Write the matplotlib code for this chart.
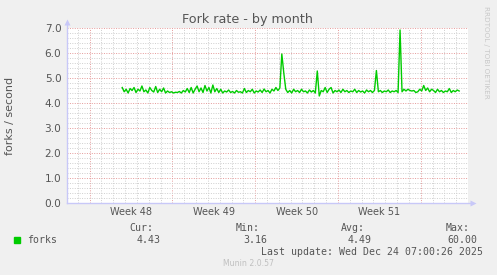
import numpy as np
import matplotlib
matplotlib.use("Agg")
import matplotlib.pyplot as plt
from matplotlib.ticker import MultipleLocator

# ---- data ----
title = "Fork rate - by month"
ylabel = "forks / second"
series_name = "forks"
week_labels = ["Week 48", "Week 49", "Week 50", "Week 51"]
week_starts = [1.917, 8.917, 15.917, 22.917, 29.917]   # days on axis (Mondays)
x_days_span = 33.417
data_start = 4.67          # day of first sample
data_step = 1.0 / 6.0      # 4-hour samples
values = [
    4.62, 4.45, 4.55, 4.40, 4.58, 4.50, 4.62, 4.42, 4.55, 4.48,
    4.68, 4.45, 4.52, 4.40, 4.62, 4.50, 4.44, 4.66, 4.42, 4.55,
    4.45, 4.60, 4.40, 4.48, 4.42, 4.45, 4.40, 4.43, 4.42, 4.46,
    4.40, 4.50, 4.44, 4.58, 4.42, 4.62, 4.40, 4.55, 4.68, 4.45,
    4.60, 4.42, 4.70, 4.48, 4.62, 4.40, 4.72, 4.45, 4.58, 4.42,
    4.55, 4.40, 4.48, 4.44, 4.52, 4.42, 4.46, 4.40, 4.50, 4.43,
    4.45, 4.40, 4.58, 4.42, 4.50, 4.45, 4.55, 4.40, 4.48, 4.44,
    4.52, 4.42, 4.56, 4.45, 4.50, 4.40, 4.55, 4.48, 4.62, 4.50,
    4.60, 5.96, 5.20, 4.55, 4.42, 4.50, 4.40, 4.55, 4.45, 4.50,
    4.42, 4.55, 4.45, 4.48, 4.40, 4.52, 4.44, 4.50, 4.40, 5.28,
    4.28, 4.50, 4.45, 4.62, 4.42, 4.55, 4.62, 4.40, 4.50, 4.45,
    4.52, 4.42, 4.55, 4.45, 4.50, 4.42, 4.48, 4.45, 4.55, 4.42,
    4.50, 4.44, 4.48, 4.40, 4.52, 4.45, 4.50, 4.42, 4.50, 5.30,
    4.45, 4.50, 4.42, 4.48, 4.45, 4.52, 4.42, 4.48, 4.45, 4.50,
    4.42, 6.92, 4.45, 4.55, 4.48, 4.55, 4.50, 4.48, 4.50, 4.42,
    4.45, 4.55, 4.48, 4.70, 4.50, 4.60, 4.45, 4.55, 4.50, 4.42,
    4.55, 4.45, 4.50, 4.42, 4.48, 4.45, 4.58, 4.42, 4.50, 4.45,
    4.52, 4.48,
]
stat_names = ["Cur:", "Min:", "Avg:", "Max:"]
stat_values = ["4.43", "3.16", "4.49", "60.00"]
last_update = "Last update: Wed Dec 24 07:00:26 2025"
footer = "Munin 2.0.57"
side_text = "RRDTOOL / TOBI OETIKER"

# ---- figure ----
W, H = 497, 275
fig = plt.figure(figsize=(W / 100, H / 100), dpi=100, facecolor="#F0F0F0")
ax = fig.add_axes([67 / W, (H - 203) / H, (468 - 67) / W, 175 / H])
ax.set_facecolor("white")

t = data_start + data_step * np.arange(len(values))
ax.plot(t, values, color="#00CC00", lw=1.0, zorder=5)

ax.set_xlim(0, x_days_span)
ax.set_ylim(0, 7)

txt = "#555555"
# grid
ax.yaxis.set_major_locator(MultipleLocator(1.0))
ax.yaxis.set_minor_locator(MultipleLocator(0.2))
ax.set_xticks(week_starts)
ax.set_xticks(np.arange(0, x_days_span, 1.0) + (week_starts[0] % 1.0), minor=True)
ax.grid(which="minor", color="#CFCFCF", ls=(0, (1, 1.5)), lw=0.7)
ax.grid(which="major", color="#E59A9A", ls=(0, (1, 1.5)), lw=0.7)
ax.set_axisbelow(True)
ax.tick_params(which="both", length=0)
ax.tick_params(axis="x", which="major", labelbottom=False)
ax.set_yticks(np.arange(0, 8, 1.0))
ax.set_yticklabels([f"{v:.1f}" for v in np.arange(0, 8, 1.0)], fontsize=7.6, color=txt)
ax.tick_params(axis="y", pad=4)

for i, lab in enumerate(week_labels):
    xm = (week_starts[i] + week_starts[i + 1]) / 2
    ax.text(xm, -9 / 175, lab, transform=ax.get_xaxis_transform(), ha="center", va="center",
            fontsize=7.0, color=txt)

for s in ax.spines.values():
    s.set_visible(False)
axc = "#C8C8F8"
ax.plot([0, 1.01], [0, 0], transform=ax.transAxes, color=axc, lw=1, clip_on=False, zorder=6)
ax.plot([0, 0], [0, 1.03], transform=ax.transAxes, color=axc, lw=1, clip_on=False, zorder=6)
ax.plot([1.012], [0], transform=ax.transAxes, marker=">", ms=5, color=axc, mec="none", clip_on=False, zorder=6)
ax.plot([0], [1.035], transform=ax.transAxes, marker="^", ms=5, color=axc, mec="none", clip_on=False, zorder=6)

def px(x, y):
    return x / W, 1 - y / H

fig.text(*px(248, 19), title, ha="center", va="center", fontsize=9.2, color=txt)
fig.text(*px(10, 116), ylabel, ha="center", va="center", rotation=90, fontsize=8, color=txt)
fig.text(*px(486, 6), side_text, ha="center", va="top", rotation=270, fontsize=5.2, color="#C8C8C8")

mono = "DejaVu Sans Mono"
fs = 7.1
fig.patches.append(plt.Rectangle(px(14, 243), 6 / W, 6 / H, transform=fig.transFigure,
                                 color="#00CC00", figure=fig))
fig.text(*px(27, 240), series_name, ha="left", va="center", family=mono, fontsize=fs, color=txt)
name_right = [153, 260, 365, 470]
val_right = [161, 267, 372, 477]
for nm, vr, nr, v in zip(stat_names, val_right, name_right, stat_values):
    fig.text(*px(nr, 228), nm, ha="right", va="center", family=mono, fontsize=fs, color=txt)
    fig.text(*px(vr, 240), v, ha="right", va="center", family=mono, fontsize=fs, color=txt)
fig.text(*px(483, 252), last_update, ha="right", va="center", family=mono, fontsize=fs, color=txt)
fig.text(*px(248, 264), footer, ha="center", va="center", fontsize=5.6, color="#C0C0C0")

fig.savefig("out.png", dpi=100, facecolor=fig.get_facecolor())
